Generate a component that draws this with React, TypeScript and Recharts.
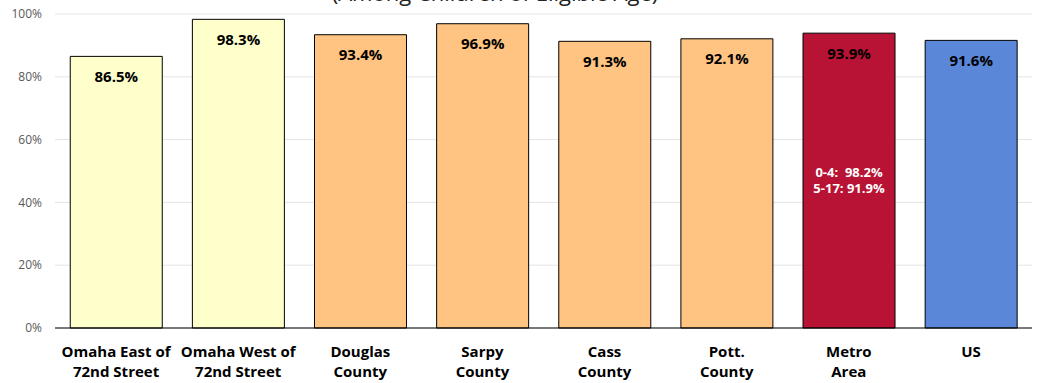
import React from 'react';
import { BarChart, Bar, XAxis, YAxis, CartesianGrid, Cell, LabelList } from 'recharts';

const categories = [
  'Omaha East of\n72nd Street',
  'Omaha West of\n72nd Street',
  'Douglas\nCounty',
  'Sarpy\nCounty',
  'Cass\nCounty',
  'Pott.\nCounty',
  'Metro\nArea',
  'US',
];
const values = [86.5, 98.3, 93.4, 96.9, 91.3, 92.1, 93.9, 91.6];
const barColors = ['#FFFFCC', '#FFFFCC', '#FFC481', '#FFC481', '#FFC481', '#FFC481', '#B81334', '#5B87D9'];
const subNotes = ['', '', '', '', '', '', '0-4:  98.2%\n5-17: 91.9%', ''];
const yTicks = [0, 20, 40, 60, 80, 100];
const title = '(Among Children of Eligible Age)';

const FONT = '"Open Sans", "Noto Sans", sans-serif';

const data = categories.map((c, i) => ({
  name: c,
  value: values[i],
  note: subNotes[i],
}));

function CategoryTick({ x, y, payload }: any) {
  const lines = String(payload.value).split('\n');
  return (
    <g transform={`translate(${x},${y})`}>
      {lines.map((l, i) => (
        <text
          key={i}
          x={0}
          y={21 + i * 20}
          textAnchor="middle"
          fontFamily={FONT}
          fontWeight={700}
          fontSize={15}
          fill="#000"
        >
          {l}
        </text>
      ))}
    </g>
  );
}

function NoteLabel(props: any) {
  const { x, y, width, height, value } = props;
  if (!value) return null;
  const lines = String(value).split('\n');
  const cy = y + height / 2;
  return (
    <g>
      {lines.map((l, i) => (
        <text
          key={i}
          x={x + width / 2}
          y={cy - 4 + i * 16}
          textAnchor="middle"
          fontFamily={FONT}
          fontWeight={700}
          fontSize={13}
          fill="#fff"
          xmlSpace="preserve"
          style={{ whiteSpace: 'pre' }}
        >
          {l}
        </text>
      ))}
    </g>
  );
}

export default function App() {
  return (
    <div style={{ position: 'absolute', top: 0, left: 0, width: 1037, height: 383, background: '#fff' }}>
      <BarChart
        width={1037}
        height={383}
        data={data}
        margin={{ top: 14, right: 5, left: 0, bottom: 0 }}
        barCategoryGap="12.5%"
      >
        <text x={495} y={1} textAnchor="middle" fontFamily={FONT} fontSize={22} fill="#222">
          {title}
        </text>
        <CartesianGrid vertical={false} stroke="#e4e4e4" />
        <XAxis
          dataKey="name"
          height={55}
          interval={0}
          tickLine={false}
          axisLine={{ stroke: '#000', strokeWidth: 1 }}
          tick={<CategoryTick />}
        />
        <YAxis
          width={55}
          domain={[0, 100]}
          ticks={yTicks}
          tickFormatter={(v: number) => `${v}%`}
          axisLine={false}
          tickLine={false}
          tickSize={0}
          tickMargin={13}
          tick={{ fontFamily: FONT, fontSize: 12, fill: '#595959' }}
        />
        <Bar dataKey="value" stroke="#000" strokeWidth={1} isAnimationActive={false}>
          {data.map((d, i) => (
            <Cell key={d.name} fill={barColors[i]} />
          ))}
          <LabelList
            dataKey="value"
            position="insideTop"
            offset={15}
            formatter={(v: number) => `${v.toFixed(1)}%`}
            style={{ fontFamily: FONT, fontWeight: 700, fontSize: 15, fill: '#000' }}
          />
          <LabelList dataKey="note" content={<NoteLabel />} />
        </Bar>
      </BarChart>
    </div>
  );
}
